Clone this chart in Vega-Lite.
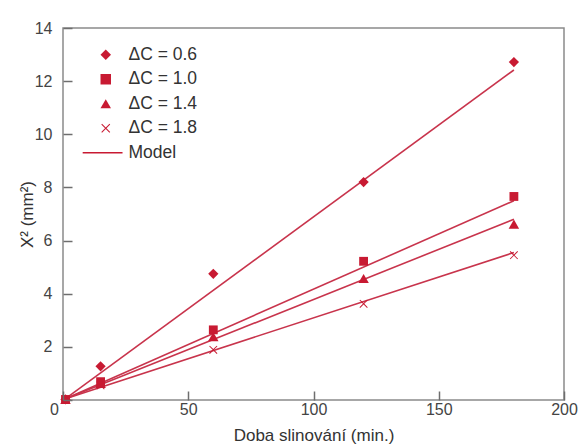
{
  "$schema": "https://vega.github.io/schema/vega-lite/v6.json",
  "width": 501,
  "height": 372,
  "autosize": "none",
  "padding": {"left": 63, "top": 28, "right": 21, "bottom": 47},
  "background": "white",
  "config": {
    "view": {"stroke": "#8a8a8a", "strokeWidth": 1.5},
    "font": "Liberation Sans"
  },
  "datasets": {
    "pts": [
      {"t": 1, "x2": 0.02, "series": "ΔC = 0.6"},
      {"t": 15, "x2": 1.27, "series": "ΔC = 0.6"},
      {"t": 60, "x2": 4.75, "series": "ΔC = 0.6"},
      {"t": 120, "x2": 8.2, "series": "ΔC = 0.6"},
      {"t": 180, "x2": 12.72, "series": "ΔC = 0.6"},
      {"t": 1, "x2": 0.02, "series": "ΔC = 1.0"},
      {"t": 15, "x2": 0.69, "series": "ΔC = 1.0"},
      {"t": 60, "x2": 2.64, "series": "ΔC = 1.0"},
      {"t": 120, "x2": 5.22, "series": "ΔC = 1.0"},
      {"t": 180, "x2": 7.66, "series": "ΔC = 1.0"},
      {"t": 1, "x2": 0.02, "series": "ΔC = 1.4"},
      {"t": 15, "x2": 0.62, "series": "ΔC = 1.4"},
      {"t": 60, "x2": 2.38, "series": "ΔC = 1.4"},
      {"t": 120, "x2": 4.57, "series": "ΔC = 1.4"},
      {"t": 180, "x2": 6.62, "series": "ΔC = 1.4"},
      {"t": 15, "x2": 0.55, "series": "ΔC = 1.8"},
      {"t": 60, "x2": 1.89, "series": "ΔC = 1.8"},
      {"t": 120, "x2": 3.62, "series": "ΔC = 1.8"},
      {"t": 180, "x2": 5.45, "series": "ΔC = 1.8"}
    ],
    "model": [
      {"t": 1, "x2": 0.05, "series": "0.6"},
      {"t": 180, "x2": 12.42, "series": "0.6"},
      {"t": 1, "x2": 0.05, "series": "1.0"},
      {"t": 180, "x2": 7.5, "series": "1.0"},
      {"t": 1, "x2": 0.05, "series": "1.4"},
      {"t": 180, "x2": 6.8, "series": "1.4"},
      {"t": 1, "x2": 0.05, "series": "1.8"},
      {"t": 180, "x2": 5.55, "series": "1.8"}
    ]
  },
  "encoding": {
    "x": {
      "field": "t",
      "type": "quantitative",
      "scale": {"domain": [0, 200], "nice": false},
      "axis": {
        "title": "Doba slinování (min.)",
        "titleFontSize": 17,
        "titleFontWeight": "normal",
        "titleColor": "#333333",
        "titlePadding": 10,
        "tickCount": 4,
        "domain": false,
        "grid": false,
        "ticks": true,
        "tickSize": -9,
        "tickColor": "#6e6e6e",
        "tickWidth": 1.5,
        "zindex": 2,
        "labelFontSize": 16,
        "labelColor": "#444444",
        "labelPadding": 10,
        "labelFlush": false,
        "labelOffset": {"condition": {"test": "datum.value === 0", "value": -9}, "value": 0}
      }
    },
    "y": {
      "field": "x2",
      "type": "quantitative",
      "scale": {"domain": [0, 14], "nice": false},
      "axis": {
        "title": "X² (mm²)",
        "titleFontSize": 17,
        "titleFontWeight": "normal",
        "titleColor": "#333333",
        "titlePadding": -2,
        "tickCount": 7,
        "labelExpr": "datum.value === 0 ? '' : datum.label",
        "domain": false,
        "grid": false,
        "ticks": true,
        "tickSize": -9,
        "tickColor": "#6e6e6e",
        "tickWidth": 1.5,
        "zindex": 2,
        "labelFontSize": 16,
        "labelColor": "#444444",
        "labelPadding": 20
      }
    }
  },
  "layer": [
    {
      "data": {"name": "model"},
      "mark": {"type": "line", "color": "#c8344c", "strokeWidth": 1.6},
      "encoding": {
        "detail": {"field": "series"}
      }
    },
    {
      "data": {"name": "pts"},
      "mark": {"type": "point", "filled": true, "opacity": 1, "color": "#c81a32"},
      "encoding": {
        "shape": {
          "field": "series",
          "type": "nominal",
          "scale": {
            "domain": ["ΔC = 0.6", "ΔC = 1.0", "ΔC = 1.4", "ΔC = 1.8", "Model"],
            "range": [
              "diamond",
              "square",
              "triangle-up",
              "M0.707,-0.849L0.849,-0.707L0.141,0L0.849,0.707L0.707,0.849L0,0.141L-0.707,0.849L-0.849,0.707L-0.141,0L-0.849,-0.707L-0.707,-0.849L0,-0.141Z",
              "M-4.4,-0.15L3.2,-0.15L3.2,0.15L-4.4,0.15Z"
            ]
          },
          "legend": {
            "title": null,
            "orient": "none",
            "legendX": 34,
            "legendY": 18,
            "symbolSize": 110,
            "symbolStrokeWidth": 0,
            "symbolFillColor": "#c81a32",
            "labelFontSize": 17.5,
            "labelColor": "#333333",
            "labelOffset": 14,
            "rowPadding": 5.5,
            "encode": {
              "symbols": {
                "update": {
                  "size": [
                    {"test": "datum.value === 'ΔC = 0.6'", "value": 130},
                    {"test": "datum.value === 'ΔC = 1.0'", "value": 80},
                    {"test": "datum.value === 'ΔC = 1.4'", "value": 110},
                    {"test": "datum.value === 'ΔC = 1.8'", "value": 100},
                    {"value": 110}
                  ]
                }
              }
            }
          }
        },
        "size": {
          "condition": [
            {"test": "datum.series === 'ΔC = 0.6'", "value": 105},
            {"test": "datum.series === 'ΔC = 1.0'", "value": 78},
            {"test": "datum.series === 'ΔC = 1.4'", "value": 110}
          ],
          "value": 95
        }
      }
    }
  ]
}
